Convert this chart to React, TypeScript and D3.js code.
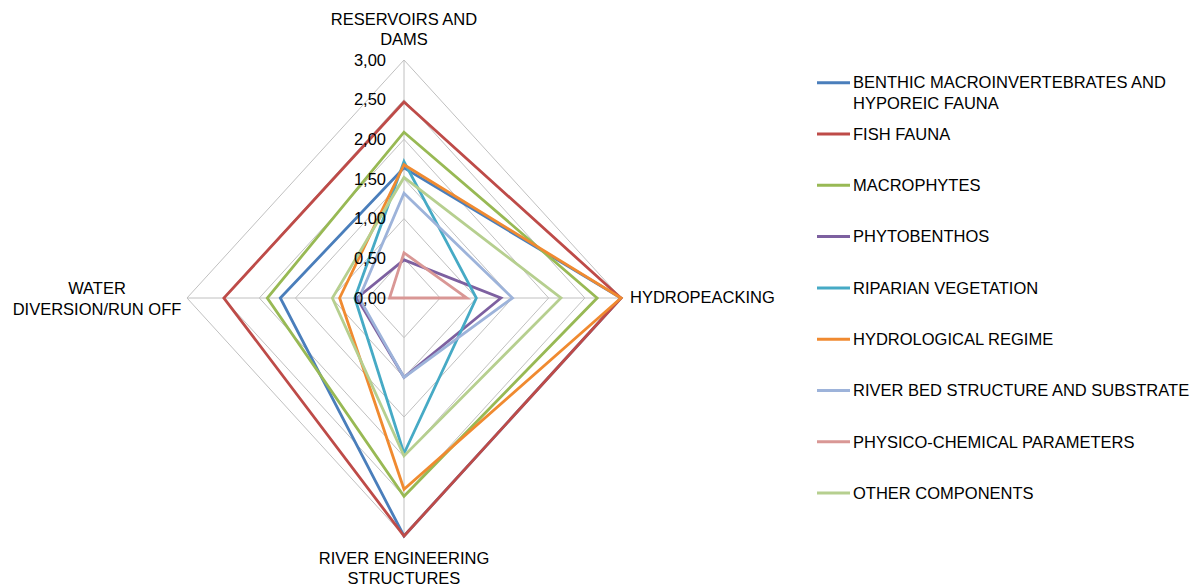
import React from "react";
import * as d3 from "d3";

const categories = [
  ["RESERVOIRS AND", "DAMS"],
  ["HYDROPEACKING"],
  ["RIVER ENGINEERING", "STRUCTURES"],
  ["WATER", "DIVERSION/RUN OFF"],
];

const seriesNames = [
  ["BENTHIC MACROINVERTEBRATES AND", "HYPOREIC FAUNA"],
  ["FISH FAUNA"],
  ["MACROPHYTES"],
  ["PHYTOBENTHOS"],
  ["RIPARIAN VEGETATION"],
  ["HYDROLOGICAL REGIME"],
  ["RIVER BED STRUCTURE AND SUBSTRATE"],
  ["PHYSICO-CHEMICAL PARAMETERS"],
  ["OTHER COMPONENTS"],
];

const benthic = [1.64, 3.0, 3.0, 1.71];
const fish = [2.47, 3.0, 3.0, 2.49];
const macrophytes = [2.09, 2.67, 2.5, 1.89];
const phytobenthos = [0.48, 1.34, 1.0, 0.65];
const riparian = [1.72, 1.0, 1.96, 0.68];
const hydrological = [1.68, 3.0, 2.41, 0.89];
const riverBed = [1.32, 1.5, 1.0, 0.62];
const physico = [0.57, 0.87, 0.0, 0.2];
const other = [1.52, 2.17, 1.99, 0.99];

const seriesValues = [benthic, fish, macrophytes, phytobenthos, riparian, hydrological, riverBed, physico, other];

const colors = ["#4A7EBB", "#BE4B48", "#98B954", "#7D60A0", "#46AAC5", "#F08A30", "#9DB3DA", "#D99795", "#B6CF8F"];

const ticks = [0, 0.5, 1, 1.5, 2, 2.5, 3];
const tickLabels = ["0,00", "0,50", "1,00", "1,50", "2,00", "2,50", "3,00"];

export default function App() {
  const cx = 404;
  const cy = 298;
  const rx = 217;
  const ry = 238;
  const r = d3.scaleLinear().domain([0, 3]).range([0, 1]);
  const angles = categories.map((_, i) => (i * 2 * Math.PI) / categories.length);
  const pt = (v: number, i: number): [number, number] => [
    cx + Math.sin(angles[i]) * r(v) * rx,
    cy - Math.cos(angles[i]) * r(v) * ry,
  ];
  const line = d3.line<[number, number]>().curve(d3.curveLinearClosed);
  const font = "'Liberation Sans', Arial, sans-serif";
  const fs = 16.5;

  const legendY0 = 82.7;
  const legendStep = 51.3;

  return (
    <svg width={1200} height={587} style={{ position: "absolute", left: 0, top: 0, background: "#fff" }} fontFamily={font}>
      {/* grid */}
      {ticks.slice(1).map((t) => (
        <path key={t} d={line(angles.map((_, i) => pt(t, i))) || ""} fill="none" stroke="#C0C0C0" strokeWidth={1} />
      ))}
      {angles.map((_, i) => {
        const [x, y] = pt(3, i);
        return <line key={i} x1={cx} y1={cy} x2={x} y2={y} stroke="#C0C0C0" strokeWidth={1} />;
      })}
      {/* series */}
      {seriesValues.map((vals, s) => (
        <path
          key={s}
          d={line(vals.map((v, i) => pt(v, i))) || ""}
          fill="none"
          stroke={colors[s]}
          strokeWidth={2.8}
          strokeLinejoin="miter"
        />
      ))}
      {/* tick labels */}
      {ticks.map((t, k) => (
        <text key={t} x={386} y={pt(t, 0)[1]} dy="0.35em" textAnchor="end" fontSize={fs} fill="#000">
          {tickLabels[k]}
        </text>
      ))}
      {/* category labels */}
      <text x={404} y={24.5} textAnchor="middle" fontSize={fs} fill="#000">
        <tspan x={404}>{categories[0][0]}</tspan>
        <tspan x={404} dy={20.5}>{categories[0][1]}</tspan>
      </text>
      <text x={630} y={302.5} textAnchor="start" fontSize={fs} fill="#000">
        {categories[1][0]}
      </text>
      <text x={404} y={564} textAnchor="middle" fontSize={fs} fill="#000">
        <tspan x={404}>{categories[2][0]}</tspan>
        <tspan x={404} dy={20}>{categories[2][1]}</tspan>
      </text>
      <text x={97} y={294} textAnchor="middle" fontSize={fs} fill="#000">
        <tspan x={97}>{categories[3][0]}</tspan>
        <tspan x={97} dy={21.3}>{categories[3][1]}</tspan>
      </text>
      {/* legend */}
      {seriesNames.map((lines, s) => {
        const y = legendY0 + s * legendStep;
        return (
          <g key={s}>
            <line x1={817} x2={850} y1={y} y2={y} stroke={colors[s]} strokeWidth={3} />
            <text x={853} y={y} fontSize={fs} fill="#000">
              {lines.map((l, j) => (
                <tspan key={j} x={853} dy={j === 0 ? "0.35em" : 20.6}>
                  {l}
                </tspan>
              ))}
            </text>
          </g>
        );
      })}
    </svg>
  );
}
